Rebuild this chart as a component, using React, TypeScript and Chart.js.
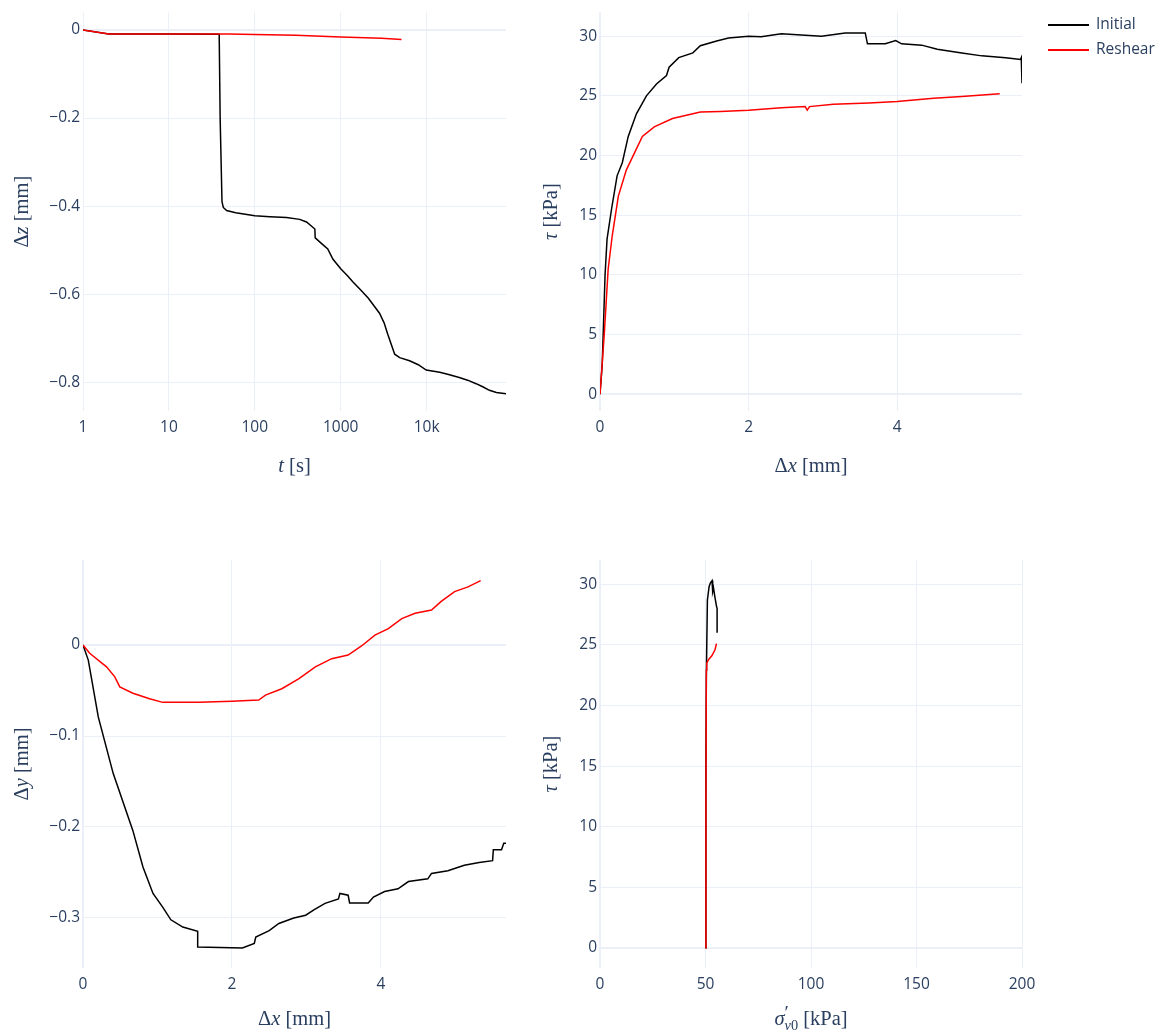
import React, { useEffect, useRef } from "react";
import { Chart, registerables } from "chart.js";

Chart.register(...registerables);

const INK = "#2a3f5f";
const GRID = "#ebf0f8";
const TICK_FONT = { family: '"Open Sans", sans-serif', size: 15.5 };
const MATH_FONT = '"Liberation Serif", "DejaVu Serif", serif';
const TITLE_SIZE = 20.5;

const SERIES_NAMES = ["Initial", "Reshear"];

// ---- Panel 1: Δz vs t (log) ----
const initialTimeS = [1, 2, 10, 38.5, 39.5, 41.5, 43, 47, 60, 100, 150, 234, 333, 400, 455, 500, 505, 600, 707, 810, 1000, 1200, 1390, 1700, 2100, 2830, 3200, 3530, 4250, 4860, 6330, 8000, 9900, 14200, 18000, 24000, 30000, 37700, 45000, 53900, 65000, 84000];
const initialDzMm = [0, -0.0095, -0.0095, -0.0097, -0.2, -0.39, -0.403, -0.41, -0.415, -0.422, -0.424, -0.426, -0.43, -0.436, -0.445, -0.452, -0.472, -0.485, -0.497, -0.52, -0.542, -0.558, -0.572, -0.59, -0.609, -0.643, -0.665, -0.691, -0.736, -0.744, -0.751, -0.76, -0.772, -0.777, -0.782, -0.789, -0.795, -0.803, -0.81, -0.818, -0.823, -0.826];
const reshearTimeS = [1, 2, 10, 50, 100, 300, 1000, 3000, 5100];
const reshearDzMm = [0, -0.009, -0.0093, -0.0095, -0.0102, -0.012, -0.016, -0.019, -0.022];
const timeTicks = [1, 10, 100, 1000, 10000];

// ---- Panel 2: τ vs Δx ----
const initialDxMm = [0, 0.03, 0.068, 0.095, 0.155, 0.23, 0.3, 0.38, 0.49, 0.625, 0.76, 0.895, 0.93, 1.06, 1.25, 1.35, 1.57, 1.73, 2.0, 2.17, 2.44, 2.71, 2.98, 3.3, 3.57, 3.6, 3.84, 3.98, 4.06, 4.33, 4.54, 4.87, 5.14, 5.46, 5.66, 5.67, 5.68];
const initialTauKPa = [0, 2.5, 10.0, 13.0, 15.5, 18.3, 19.4, 21.6, 23.5, 25.0, 26.0, 26.7, 27.4, 28.2, 28.6, 29.2, 29.6, 29.85, 30.0, 29.95, 30.2, 30.1, 30.0, 30.27, 30.27, 29.36, 29.36, 29.64, 29.36, 29.25, 28.9, 28.6, 28.35, 28.2, 28.05, 28.2, 26.05];
const reshearDxMm = [0, 0.057, 0.11, 0.165, 0.247, 0.355, 0.463, 0.57, 0.73, 0.976, 1.35, 1.62, 2.0, 2.44, 2.76, 2.79, 2.82, 3.14, 3.62, 4.0, 4.49, 4.87, 5.38];
const reshearTauKPa = [0, 5.0, 10.5, 13.3, 16.6, 18.8, 20.2, 21.6, 22.4, 23.1, 23.65, 23.7, 23.8, 24.0, 24.1, 23.8, 24.1, 24.3, 24.4, 24.53, 24.8, 24.95, 25.17];

// ---- Panel 3: Δy vs Δx ----
const initialDxMm2 = [0, 0.071, 0.205, 0.405, 0.67, 0.805, 0.94, 1.07, 1.18, 1.34, 1.54, 1.54, 2.14, 2.3, 2.32, 2.5, 2.63, 2.83, 2.99, 3.1, 3.25, 3.43, 3.45, 3.56, 3.58, 3.83, 3.9, 4.05, 4.23, 4.37, 4.63, 4.68, 4.9, 5.12, 5.32, 5.5, 5.51, 5.62, 5.65, 5.68];
const initialDyMm = [0, -0.0165, -0.079, -0.141, -0.204, -0.244, -0.273, -0.288, -0.302, -0.31, -0.3146, -0.332, -0.333, -0.328, -0.321, -0.314, -0.306, -0.3, -0.297, -0.291, -0.284, -0.279, -0.273, -0.275, -0.2835, -0.2835, -0.277, -0.271, -0.268, -0.26, -0.257, -0.251, -0.248, -0.242, -0.239, -0.237, -0.225, -0.225, -0.218, -0.218];
const reshearDxMm2 = [0, 0.09, 0.316, 0.427, 0.494, 0.67, 0.894, 1.07, 1.56, 2.0, 2.36, 2.45, 2.67, 2.9, 3.12, 3.34, 3.56, 3.74, 3.92, 4.1, 4.28, 4.46, 4.68, 4.81, 4.99, 5.17, 5.34];
const reshearDyMm = [0, -0.009, -0.024, -0.035, -0.046, -0.053, -0.059, -0.063, -0.063, -0.0617, -0.0605, -0.055, -0.048, -0.037, -0.024, -0.015, -0.011, -0.001, 0.011, 0.018, 0.029, 0.035, 0.0385, 0.048, 0.0587, 0.064, 0.0708];

// ---- Panel 4: τ vs σ'v0 ----
const initialSigmaKPa = [50, 50.2, 50.4, 50.9, 51.7, 52.3, 53.1, 53.4, 53.8, 54.4, 55.2, 55.5, 55.5];
const initialTauKPa2 = [0, 15, 22.4, 28.7, 29.8, 30.1, 30.3, 29.4, 29.7, 29.0, 28.2, 28.0, 26.0];
const reshearSigmaKPa = [50, 50.2, 50.4, 50.6, 51.5, 53.0, 54.5, 55.2];
const reshearTauKPa2 = [0, 12, 22.9, 23.5, 23.8, 24.1, 24.6, 25.1];

type Seg = { t: string; i?: boolean; sub?: boolean; sup?: boolean; stack?: boolean; scale?: number };

const pts = (xs: number[], ys: number[]) => xs.map((x, k) => ({ x, y: ys[k] }));

function fmtNum(v: number) {
  const r = Math.round(v * 1e6) / 1e6;
  return r < 0 ? "\u2212" + String(-r) : String(r);
}

function drawRich(ctx: CanvasRenderingContext2D, segs: Seg[], size: number, cx: number, cy: number, vertical: boolean) {
  ctx.save();
  ctx.translate(cx, cy);
  if (vertical) ctx.rotate(-Math.PI / 2);
  const items = segs.map((s) => {
    const fs = size * (s.scale ?? (s.sub || s.sup ? 0.7 : 1));
    const font = `${s.i ? "italic " : ""}${fs}px ${MATH_FONT}`;
    ctx.font = font;
    return { ...s, font, w: ctx.measureText(s.t).width };
  });
  let cursor = 0;
  let lastStart = 0;
  const placed: { x: number; it: any }[] = [];
  for (const it of items) {
    const start = it.stack ? lastStart : cursor;
    placed.push({ x: start, it });
    lastStart = start;
    cursor = Math.max(cursor, start + it.w);
  }
  const total = cursor;
  ctx.fillStyle = INK;
  ctx.textBaseline = "alphabetic";
  ctx.textAlign = "left";
  const base = size * 0.3;
  for (const p of placed) {
    ctx.font = p.it.font;
    let dy = base;
    if (p.it.sup) dy -= size * 0.3;
    if (p.it.sub) dy += size * 0.24;
    ctx.fillText(p.it.t, p.x - total / 2, dy);
  }
  ctx.restore();
}

type Spec = {
  left: number;
  top: number;
  w: number;
  h: number;
  plot: { l: number; t: number; r: number; b: number };
  yTitleX: number;
  xTitleY: number;
  xTitle: Seg[];
  yTitle: Seg[];
  xScale: any;
  yScale: any;
  initial: { x: number; y: number }[];
  reshear: { x: number; y: number }[];
  legend?: boolean;
};

const gridOpts = {
  color: GRID,
  lineWidth: (c: any) => (c.tick && Math.abs(c.tick.value) < 1e-9 ? 2 : 1),
  drawTicks: false,
};

function buildConfig(spec: Spec): any {
  const { left, top, w, h, plot } = spec;
  const plugin = {
    id: "richTitles",
    afterDraw(chart: any) {
      const ctx = chart.ctx as CanvasRenderingContext2D;
      const a = chart.chartArea;
      drawRich(ctx, spec.xTitle, TITLE_SIZE, (a.left + a.right) / 2, spec.xTitleY - top, false);
      drawRich(ctx, spec.yTitle, TITLE_SIZE, spec.yTitleX - left, (a.top + a.bottom) / 2, true);
      if (spec.legend) {
        const ds = chart.data.datasets;
        const rows = [25, 50];
        ds.forEach((d: any, k: number) => {
          const y = rows[k] - top;
          ctx.save();
          ctx.strokeStyle = d.borderColor;
          ctx.lineWidth = 2;
          ctx.beginPath();
          ctx.moveTo(1048 - left, y);
          ctx.lineTo(1089 - left, y);
          ctx.stroke();
          ctx.fillStyle = INK;
          ctx.font = `15.5px "Open Sans", sans-serif`;
          ctx.textBaseline = "middle";
          ctx.textAlign = "left";
          ctx.fillText(d.label, 1096 - left, y);
          ctx.restore();
        });
      }
    },
  };
  return {
    type: "line",
    data: {
      datasets: [
        {
          label: SERIES_NAMES[0],
          data: spec.initial,
          borderColor: "#000000",
          borderWidth: 1.5,
          pointRadius: 0,
          tension: 0,
          fill: false,
          order: 1,
        },
        {
          label: SERIES_NAMES[1],
          data: spec.reshear,
          borderColor: "#ff0000",
          borderWidth: 1.5,
          pointRadius: 0,
          tension: 0,
          fill: false,
          order: 0,
        },
      ],
    },
    options: {
      animation: false,
      responsive: false,
      devicePixelRatio: 1,
      events: [],
      layout: {
        autoPadding: false,
        padding: { top: plot.t - top, right: left + w - plot.r, left: 0, bottom: 0 },
      },
      plugins: { legend: { display: false }, tooltip: { enabled: false } },
      scales: {
        x: {
          ...spec.xScale,
          position: "bottom",
          border: { display: false },
          grid: gridOpts,
          afterFit: (s: any) => {
            s.height = top + h - plot.b;
          },
          ticks: {
            ...(spec.xScale.ticks || {}),
            color: INK,
            font: TICK_FONT,
            padding: 7,
            maxRotation: 0,
            autoSkip: false,
          },
        },
        y: {
          ...spec.yScale,
          position: "left",
          border: { display: false },
          grid: gridOpts,
          afterFit: (s: any) => {
            s.width = plot.l - left;
          },
          ticks: {
            ...(spec.yScale.ticks || {}),
            color: INK,
            font: TICK_FONT,
            padding: 3,
            autoSkip: false,
          },
        },
      },
    },
    plugins: [plugin],
  };
}

const DX: Seg[] = [{ t: "Δ" }, { t: "x", i: true }, { t: " [mm]" }];
const TAU: Seg[] = [{ t: "τ", i: true }, { t: " [kPa]" }];

const specs: Spec[] = [
  {
    left: 0,
    top: 0,
    w: 540,
    h: 490,
    plot: { l: 83, t: 7, r: 506, b: 411 },
    yTitleX: 22,
    xTitleY: 466,
    xTitle: [{ t: "t", i: true }, { t: " [s]" }],
    yTitle: [{ t: "Δ" }, { t: "z", i: true }, { t: " [mm]" }],
    xScale: {
      type: "logarithmic",
      min: 1,
      max: 84000,
      afterBuildTicks: (s: any) => {
        s.ticks = timeTicks.map((v) => ({ value: v, major: true }));
      },
      ticks: { callback: (v: any) => (Number(v) >= 10000 ? Number(v) / 1000 + "k" : String(v)) },
    },
    yScale: {
      type: "linear",
      min: -0.865,
      max: 0.04,
      ticks: { stepSize: 0.2, includeBounds: false, callback: (v: any) => fmtNum(Number(v)) },
    },
    initial: pts(initialTimeS, initialDzMm),
    reshear: pts(reshearTimeS, reshearDzMm),
  },
  {
    left: 540,
    top: 0,
    w: 631,
    h: 490,
    plot: { l: 600, t: 7, r: 1022, b: 411 },
    yTitleX: 551,
    xTitleY: 466,
    xTitle: DX,
    yTitle: TAU,
    xScale: {
      type: "linear",
      min: 0,
      max: 5.68,
      ticks: { stepSize: 2, includeBounds: false, callback: (v: any) => fmtNum(Number(v)) },
    },
    yScale: {
      type: "linear",
      min: -1.4,
      max: 32,
      ticks: { stepSize: 5, includeBounds: false, callback: (v: any) => fmtNum(Number(v)) },
    },
    initial: pts(initialDxMm, initialTauKPa),
    reshear: pts(reshearDxMm, reshearTauKPa),
    legend: true,
  },
  {
    left: 0,
    top: 540,
    w: 540,
    h: 495,
    plot: { l: 83, t: 560, r: 506, b: 968 },
    yTitleX: 22,
    xTitleY: 1019,
    xTitle: DX,
    yTitle: [{ t: "Δ" }, { t: "y", i: true }, { t: " [mm]" }],
    xScale: {
      type: "linear",
      min: 0,
      max: 5.68,
      ticks: { stepSize: 2, includeBounds: false, callback: (v: any) => fmtNum(Number(v)) },
    },
    yScale: {
      type: "linear",
      min: -0.355,
      max: 0.0935,
      ticks: { stepSize: 0.1, includeBounds: false, callback: (v: any) => fmtNum(Number(v)) },
    },
    initial: pts(initialDxMm2, initialDyMm),
    reshear: pts(reshearDxMm2, reshearDyMm),
  },
  {
    left: 540,
    top: 540,
    w: 631,
    h: 495,
    plot: { l: 600, t: 560, r: 1022, b: 968 },
    yTitleX: 551,
    xTitleY: 1019,
    xTitle: [
      { t: "σ", i: true },
      { t: "′", sup: true, scale: 0.95 },
      { t: "v", i: true, sub: true, stack: true },
      { t: "0", sub: true },
      { t: " [kPa]" },
    ],
    yTitle: TAU,
    xScale: {
      type: "linear",
      min: 0,
      max: 200,
      ticks: { stepSize: 50, includeBounds: false, callback: (v: any) => fmtNum(Number(v)) },
    },
    yScale: {
      type: "linear",
      min: -1.65,
      max: 32,
      ticks: { stepSize: 5, includeBounds: false, callback: (v: any) => fmtNum(Number(v)) },
    },
    initial: pts(initialSigmaKPa, initialTauKPa2),
    reshear: pts(reshearSigmaKPa, reshearTauKPa2),
  },
];

function Panel({ spec }: { spec: Spec }) {
  const ref = useRef<HTMLCanvasElement>(null);
  useEffect(() => {
    if (!ref.current) return;
    const chart = new Chart(ref.current, buildConfig(spec));
    return () => chart.destroy();
  }, [spec]);
  return (
    <canvas
      ref={ref}
      width={spec.w}
      height={spec.h}
      style={{ position: "absolute", left: spec.left, top: spec.top, width: spec.w, height: spec.h }}
    />
  );
}

export default function App() {
  return (
    <div style={{ position: "absolute", left: 0, top: 0, width: 1171, height: 1035, background: "#ffffff", overflow: "hidden" }}>
      {specs.map((s, k) => (
        <Panel key={k} spec={s} />
      ))}
    </div>
  );
}
